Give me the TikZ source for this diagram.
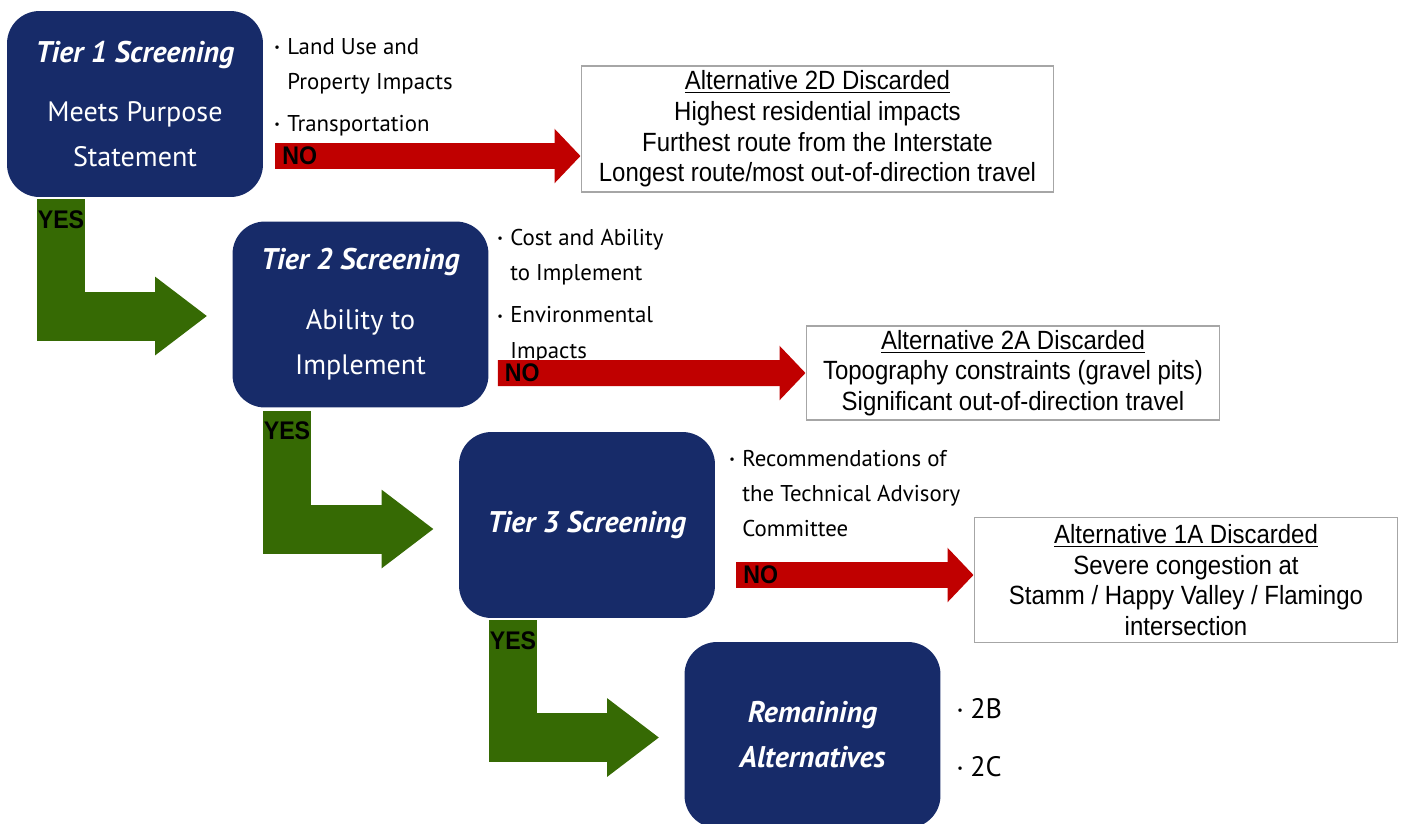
\documentclass[tikz,border=0pt]{standalone}
\usepackage{fontspec}
\setmainfont{PT Sans}
\newfontfamily\arialfont[FakeStretch=0.91]{Liberation Sans}
\usetikzlibrary{arrows.meta}
\definecolor{tiernavy}{HTML}{172B69}
\definecolor{nored}{HTML}{C00000}
\definecolor{yesgreen}{HTML}{366A04}
\newcommand{\bl}{\makebox[7.4pt][l]{\raisebox{0.25ex}{\fontsize{7}{7}\selectfont\textbullet}}}
\newcommand{\tiertitle}[1]{{\fontsize{17}{25.6}\selectfont\bfseries\itshape #1}}
\tikzset{tierbox/.style={fill=tiernavy,rounded corners=0.65cm,minimum width=5.12cm,minimum height=3.72cm,
		inner sep=0pt,text=white,align=center,font=\fontsize{16}{25.6}\selectfont},
	dropbox/.style={draw=gray!70,line width=0.6pt,fill=white,inner sep=0pt,align=center,
		font=\arialfont\fontsize{15}{17.4}\selectfont},
	bullets/.style={anchor=north west,inner sep=0pt,align=left,font=\fontsize{13}{20}\selectfont},
	noarrow/.style={draw=nored,line width=0.52cm,-{Triangle[length=0.52cm,width=1.06cm]}},
	yesarrow/.style={draw=yesgreen,line width=0.98cm,line join=miter,-{Triangle[length=1.04cm,width=1.5cm]}},
	nolbl/.style={at start,anchor=west,xshift=4pt,inner sep=0pt,outer sep=0pt,
		font=\arialfont\bfseries\fontsize{14.5}{14.5}\selectfont},
	yeslbl/.style={at start,anchor=north,yshift=-6.3pt,inner sep=0pt,outer sep=0pt,
		font=\arialfont\bfseries\fontsize{14.5}{14.5}\selectfont}}

\begin{document}
\begin{tikzpicture}[x=0.02cm,y=-0.02cm]
	\useasboundingbox (0,0) rectangle (1401,823);
	\clip (0,0) rectangle (1401,823);

	\node[tierbox] (t1) at (135,104) {\tiertitle{Tier 1 Screening}\\[8.5pt]Meets Purpose\\Statement};
	\node[tierbox] (t2) at (360.5,314.5) {\tiertitle{Tier 2 Screening}\\[8.5pt]Ability to\\Implement};
	\node[tierbox] (t3) at (587,525) {\tiertitle{Tier 3 Screening}};
	\node[tierbox] (rem) at (812.5,735) {\tiertitle{Remaining}\\\tiertitle{Alternatives}};

	\node[dropbox,minimum width=9.46cm,minimum height=2.52cm] (d2) at (817.5,129)
		{\underline{Alternative 2D Discarded}\\Highest residential impacts\\Furthest route from the Interstate\\Longest route/most out-of-direction travel};
	\node[dropbox,minimum width=8.28cm,minimum height=1.88cm] (d2a) at (1013,373)
		{\underline{Alternative 2A Discarded}\\Topography constraints (gravel pits)\\Significant out-of-direction travel};
	\node[dropbox,minimum width=8.48cm,minimum height=2.5cm] (d1a) at (1186,580)
		{\underline{Alternative 1A Discarded}\\Severe congestion at\\Stamm / Happy Valley / Flamingo\\intersection};

	\node[bullets] (c1) at (274,38) {\bl Land Use and\\\hspace*{7.4pt}Property Impacts\\[4pt]\bl Transportation};
	\node[bullets] (c2) at (497,229) {\bl Cost and Ability\\\hspace*{7.4pt}to Implement\\[4pt]\bl Environmental\\\hspace*{7.4pt}Impacts};
	\node[bullets] (c3) at (729,450) {\bl Recommendations of\\\hspace*{7.4pt}the Technical Advisory\\\hspace*{7.4pt}Committee};
	\node[bullets,font=\fontsize{16}{33}\selectfont] (c4) at (957,698) {\bl 2B\\\bl 2C};

	\draw[noarrow] ([shift={(12,52)}]t1.east) -- node[nolbl] {NO} ([shift={(0,27)}]d2.west);
	\draw[noarrow] ([shift={(9,58.5)}]t2.east) -- node[nolbl] {NO} (d2a.west);
	\draw[noarrow] ([shift={(21,50)}]t3.east) -- node[nolbl] {NO} ([shift={(0,-5)}]d1a.west);

	\draw[yesarrow] ([shift={(-74,2)}]t1.south) |- node[yeslbl] {YES} ([shift={(-25,1.5)}]t2.west);
	\draw[yesarrow] ([shift={(-73.5,3)}]t2.south) |- node[yeslbl] {YES} ([shift={(-25,4)}]t3.west);
	\draw[yesarrow] ([shift={(-74,2)}]t3.south) |- node[yeslbl] {YES} ([shift={(-25,2.5)}]rem.west);
\end{tikzpicture}
\end{document}
